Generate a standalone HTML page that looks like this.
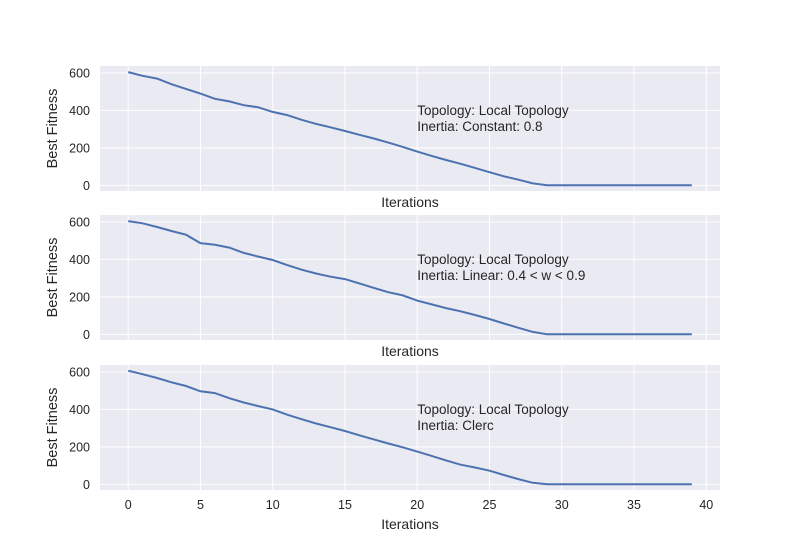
<!DOCTYPE html>
<html><head><meta charset="utf-8"><style>
body{margin:0;background:#fff;}
svg{display:block;font-family:"Liberation Sans",sans-serif;}
</style></head><body>
<svg id="chart" width="800" height="550"></svg>
<script>
const iterations = Array.from({length:40},(_,i)=>i);
const seriesConstant = [605,585,570,540,515,490,462,448,428,417,392,375,350,328,310,290,270,250,228,205,180,157,135,115,93,70,48,30,10,0,0,0,0,0,0,0,0,0,0,0];
const seriesLinear = [605,593,573,552,532,487,478,463,435,415,397,370,345,325,308,295,272,248,225,208,180,160,140,123,103,82,58,35,13,0,0,0,0,0,0,0,0,0,0,0];
const seriesClerc = [607,588,568,545,525,497,487,460,437,418,400,372,348,325,305,285,262,240,218,198,175,152,128,105,90,73,50,28,8,0,0,0,0,0,0,0,0,0,0,0];
const xTicks = [0,5,10,15,20,25,30,35,40];
const yTicks = [0,200,400,600];
const annotations = [["Topology: Local Topology","Inertia: Constant: 0.8"],["Topology: Local Topology","Inertia: Linear: 0.4 < w < 0.9"],["Topology: Local Topology","Inertia: Clerc"]];
const panels = [{top:66,data:seriesConstant},{top:215,data:seriesLinear},{top:365,data:seriesClerc}];
const NS="http://www.w3.org/2000/svg";
const svg=document.getElementById('chart');
const L=100,R=720,H=125,xmin=-1.95,xmax=40.95,ymin=-30.35,ymax=637.35;
function mk(t,a,p){const e=document.createElementNS(NS,t);for(const k in a)e.setAttribute(k,a[k]);(p||svg).appendChild(e);return e;}
const sx=v=>L+(v-xmin)/(xmax-xmin)*(R-L);
panels.forEach((pn,pi)=>{
  const T=pn.top;const sy=v=>T+H-(v-ymin)/(ymax-ymin)*H;
  const g=mk('g',{});
  
  
  const bg=mk('rect',{x:L,y:T,width:R-L,height:H,fill:'#eaeaf2'},g);
  
  
  xTicks.forEach(t=>{
    const ln=mk('line',{x1:sx(t),x2:sx(t),y1:T,y2:T+H,stroke:'#fff','stroke-width':1},g);
    
    
    if(pi===2){const tx=mk('text',{x:sx(t),y:T+H+19,'text-anchor':'middle','font-size':12.5,fill:'#262626'},g);tx.textContent=t;
      
      }
  });
  yTicks.forEach(t=>{
    const ln=mk('line',{x1:L,x2:R,y1:sy(t),y2:sy(t),stroke:'#fff','stroke-width':1},g);
    
    
    const tx=mk('text',{x:90,y:sy(t)+4.5,'text-anchor':'end','font-size':12.5,fill:'#262626'},g);tx.textContent=t;
    
    
  });
  const pts=iterations.map((x,i)=>sx(x).toFixed(1)+','+sy(pn.data[i]).toFixed(1)).join(' ');
  const pl=mk('polyline',{points:pts,fill:'none',stroke:'#4c72b0','stroke-width':2},g);
  
  
  const ay=sy(300);
  annotations[pi].forEach((s,k)=>{const tx=mk('text',{x:sx(20),y:ay-16+k*16+2,'font-size':13.5,fill:'#262626'},g);tx.textContent=s;
    
    });
  const xl=mk('text',{x:410,y:T+H+(pi===2?39:16),'text-anchor':'middle','font-size':14,fill:'#262626'},g);xl.textContent='Iterations';
  
  
  const yl=mk('text',{x:57,y:T+H/2,'text-anchor':'middle','font-size':14.5,fill:'#262626',transform:`rotate(-90 57 ${T+H/2})`},g);yl.textContent='Best Fitness';
  
  
});
</script>
</body></html>
